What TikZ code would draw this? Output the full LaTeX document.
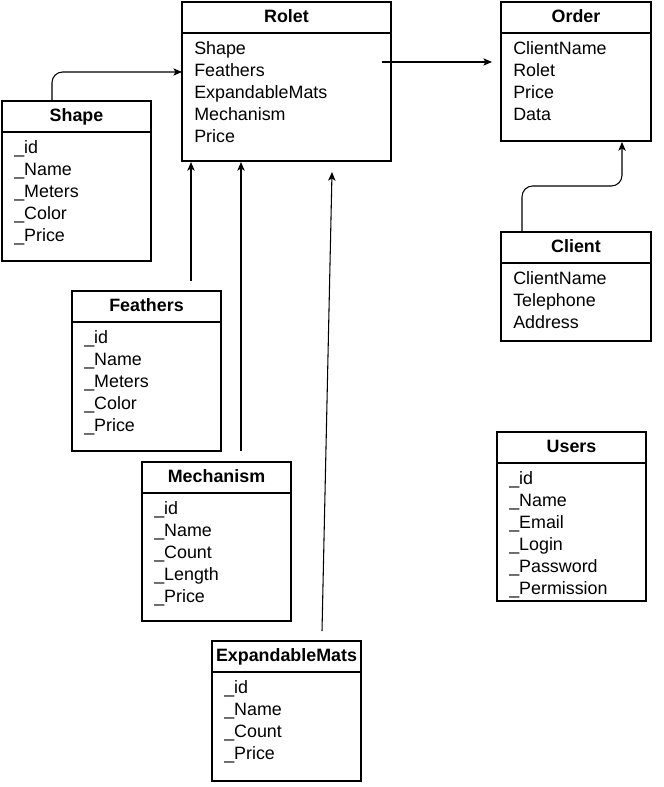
\documentclass[tikz,border=0pt]{standalone}
\usepackage{fontspec}
\setmainfont{Liberation Sans}
\usetikzlibrary{arrows.meta}
\tikzset{
  frame/.style={line width=0.9pt, black},
  boxframe/.style={draw, frame, inner sep=0pt, outer sep=0pt, fill=white},
  titletext/.style={inner sep=0pt, font=\fontsize{13.4pt}{15pt}\selectfont\bfseries},
  attrtext/.style={inner sep=0pt, font=\fontsize{13.4pt}{15pt}\selectfont},
  conn/.style={line width=0.8pt, -{Stealth[length=6.5pt,width=5.5pt,inset=1.6pt]}},
}
\newcommand{\umlbox}[7]{%
  \node[boxframe, minimum width=#4*0.75pt, minimum height=#5*0.75pt, anchor=north west] (#1) at (#2,#3) {};
  \draw[frame] (#2,#3+31) -- (#2+#4,#3+31);
  \node[titletext, anchor=base] (#1-title) at (#2+#4/2,#3+20.5) {#6};
  \foreach \t [count=\i] in {#7} {
    \node[attrtext, anchor=base west] (#1-a\i) at (#2+12,#3+30.5+22*\i) {\t};
  }
}
\begin{document}
\begin{tikzpicture}[x=0.75pt, y=-0.75pt]
\useasboundingbox (0,0) rectangle (663,787);

\umlbox{rolet}{182}{2}{209}{159}{Rolet}{Shape,Feathers,ExpandableMats,Mechanism,Price}
\umlbox{order}{501}{2}{150}{139}{Order}{ClientName,Rolet,Price,Data}
\umlbox{shape}{2}{101}{149}{160}{Shape}{\_id,\_Name,\_Meters,\_Color,\_Price}
\umlbox{client}{501}{232}{150}{109}{Client}{ClientName,Telephone,Address}
\umlbox{feathers}{72}{291}{149}{160}{Feathers}{\_id,\_Name,\_Meters,\_Color,\_Price}
\umlbox{users}{497}{432}{149}{169}{Users}{\_id,\_Name,\_Email,\_Login,\_Password,\_Permission}
\umlbox{mechanism}{142}{462}{149}{159}{Mechanism}{\_id,\_Name,\_Count,\_Length,\_Price}
\umlbox{expmats}{212}{641}{149}{140}{ExpandableMats}{\_id,\_Name,\_Count,\_Price}

% connector end points
\coordinate (shapeTop) at (52,101);
\coordinate (roletIn) at (182,72);
\coordinate (roletOut) at (382,62);
\coordinate (orderIn) at (492,62);
\coordinate (featOut) at (191,281);
\coordinate (featIn) at (191,162);
\coordinate (mechOut) at (241,451);
\coordinate (mechIn) at (241,162);
\coordinate (expOut) at (322,631);
\coordinate (expIn) at (332,172);
\coordinate (clientTop) at (522,232);
\coordinate (orderBottom) at (622,142);

\draw[conn, rounded corners=8] (shapeTop) |- (roletIn);
\draw[conn] (roletOut) -- (orderIn);
\draw[conn] (featOut) -- (featIn);
\draw[conn] (mechOut) -- (mechIn);
\draw[conn] (expOut) -- (expIn);
\draw[conn, rounded corners=8] (clientTop) -- (522,186) -- (622,186) -- (orderBottom);
\end{tikzpicture}
\end{document}
